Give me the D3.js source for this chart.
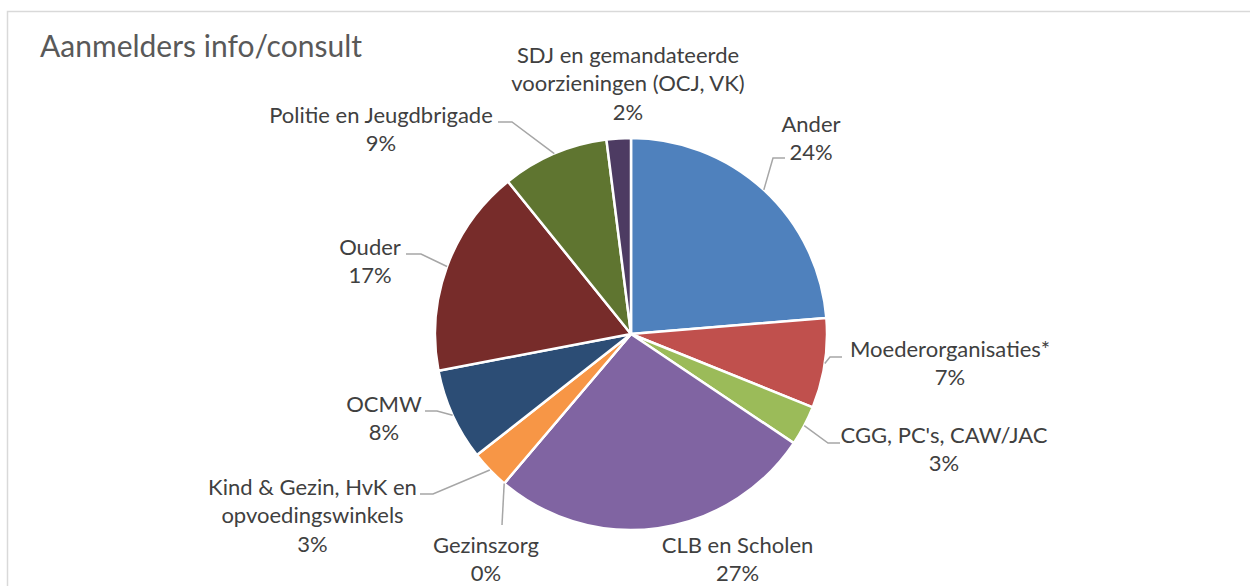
<!DOCTYPE html>
<html>
<head>
<meta charset="utf-8">
<script src="https://cdn.jsdelivr.net/npm/d3@7"></script>
<style>
    body { margin: 0; background: #fff; }
    svg { display: block; }
</style>
</head>
<body>
<div id="chart"></div>
<script>
// slices, clockwise from 12 o'clock
const categories = [
    "Ander",
    "Moederorganisaties*",
    "CGG, PC's, CAW/JAC",
    "CLB en Scholen",
    "Gezinszorg",
    "Kind & Gezin, HvK en\nopvoedingswinkels",
    "OCMW",
    "Ouder",
    "Politie en Jeugdbrigade",
    "SDJ en gemandateerde\nvoorzieningen (OCJ, VK)"
];
const shares = [23.7, 7.4, 3.3, 26.8, 0, 3.2, 7.6, 17.2, 8.8, 2.0];
const colors = ["#4F81BD", "#C0504D", "#9BBB59", "#8064A2", "#4BACC6",
    "#F79646", "#2C4D75", "#772C2A", "#5F7530", "#4D3B62"];

// label placement (text centre x, first baseline y, leader knee, leader end x)
const labelLayout = [
    { x: 811, y: 131.5, knee: [773, 158], endX: 785 },
    { x: 950, y: 356.5, knee: [830, 357], endX: 842 },
    { x: 944, y: 443, knee: [828, 443], endX: 840 },
    { x: 737.5, y: 553 },
    { x: 486, y: 553, knee: [502, 525], endX: 502 },
    { x: 312.5, y: 495, knee: [433, 494], endX: 420 },
    { x: 384, y: 411.5, knee: [437, 411], endX: 425 },
    { x: 370, y: 255, knee: [421, 254], endX: 406 },
    { x: 381, y: 123, knee: [512, 122], endX: 498 },
    { x: 628, y: 63 }
];

const width = 1250, height = 586;
const cx = 631, cy = 334, radius = 196;
const lineHeight = 28.3;

const svg = d3.select("#chart").append("svg")
    .attr("width", width)
    .attr("height", height);

// chart frame (runs off the right and bottom edge)
svg.append("rect")
    .attr("x", 7.5)
    .attr("y", 11.5)
    .attr("width", width + 20)
    .attr("height", height + 20)
    .attr("fill", "none")
    .attr("stroke", "#D9D9D9")
    .attr("stroke-width", 1.5);

svg.append("text")
    .attr("x", 40)
    .attr("y", 57)
    .attr("font-family", "Lato, 'Open Sans', sans-serif")
    .attr("font-size", 30)
    .attr("fill", "#595959")
    .text("Aanmelders info/consult");

const data = categories.map((c, i) => ({ name: c, value: shares[i], color: colors[i], layout: labelLayout[i] }));

const pie = d3.pie()
    .sort(null)
    .value(d => d.value);

const arc = d3.arc()
    .innerRadius(0)
    .outerRadius(radius);

const arcs = pie(data);

const g = svg.append("g")
    .attr("transform", "translate(" + cx + "," + cy + ")");

g.selectAll("path.slice")
    .data(arcs)
    .enter().append("path")
    .attr("class", "slice")
    .attr("d", arc)
    .attr("fill", d => d.data.color)
    .attr("stroke", "#fff")
    .attr("stroke-width", 2.5)
    .attr("stroke-linejoin", "round");

// leader lines: start on the rim at the slice's mid angle
const leaders = arcs.filter(d => d.data.layout.knee);
svg.selectAll("polyline.leader")
    .data(leaders)
    .enter().append("polyline")
    .attr("class", "leader")
    .attr("points", d => {
        const mid = (d.startAngle + d.endAngle) / 2;
        const sx = cx + radius * Math.sin(mid);
        const sy = cy - radius * Math.cos(mid);
        const k = d.data.layout.knee;
        return [[sx, sy], k, [d.data.layout.endX, k[1]]].map(p => p.join(",")).join(" ");
    })
    .attr("fill", "none")
    .attr("stroke", "#A6A6A6")
    .attr("stroke-width", 1.5);

const pct = v => Math.round(v) + "%";

const labels = svg.selectAll("text.label")
    .data(arcs)
    .enter().append("text")
    .attr("class", "label")
    .attr("text-anchor", "middle")
    .attr("font-family", "Lato, 'Open Sans', sans-serif")
    .attr("font-size", 22)
    .attr("fill", "#404040");

labels.each(function(d) {
    const lines = d.data.name.split("\n").concat([pct(d.data.value)]);
    const t = d3.select(this);
    lines.forEach((line, i) => {
        t.append("tspan")
            .attr("x", d.data.layout.x)
            .attr("y", d.data.layout.y + i * lineHeight)
            .text(line);
    });
});
</script>
</body>
</html>
